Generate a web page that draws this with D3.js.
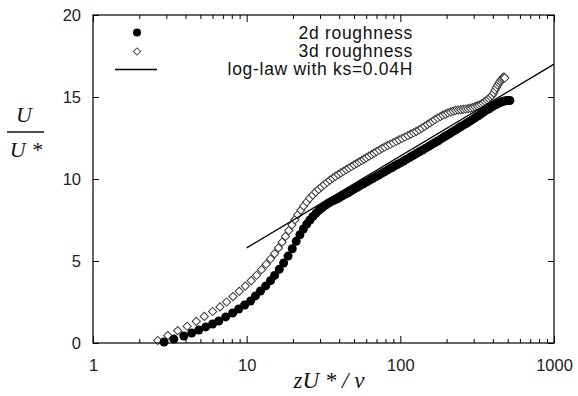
<!DOCTYPE html>
<html><head><meta charset="utf-8">
<script src="https://cdn.jsdelivr.net/npm/d3@7"></script>
<style>
html,body{margin:0;padding:0;background:#fff;}
svg{display:block;}
</style></head>
<body>
<svg id="chart" width="578" height="396"></svg>
<script>
// ---- data ----
const xMajorTicks = [1, 10, 100, 1000];
const xMajorLabels = ["1", "10", "100", "1000"];
const xMinorTicks = [2,3,4,5,6,7,8,9,20,30,40,50,60,70,80,90,200,300,400,500,600,700,800,900];
const yTicks = [0, 5, 10, 15, 20];
const yTickLabels = ["0", "5", "10", "15", "20"];

const legendLabels = ["2d roughness", "3d roughness", "log-law with ks=0.04H"];

const z2d = [2.9,3.36,3.9,4.39,4.88,5.42,6.0,6.58,7.3,8.1,8.87,9.7,10.6,11.4,12.3,13.3,14.3,15.2,16.3,17.4,18.6,19.8,21.0,22.2,23.4,24.6,25.8,27.0,28.3,29.6,31,32.5,34,35.5,37,38.5,40,42,44,46,48,50,52.5,55,57.5,60,63,66,69,72,75.5,79,83,87,91,95.5,100,105,110,115.5,121,127,133,139.5,146,153,160,167.5,175,183,191,200,209,218,228,238,248.5,259,270,282,294,306,319,332,346,360,375,390,405,420,436,452,468,484,500,516];
const u2d = [0.06,0.24,0.43,0.61,0.79,0.98,1.16,1.34,1.59,1.83,2.07,2.32,2.56,2.87,3.17,3.48,3.8,4.12,4.5,4.88,5.3,5.75,6.2,6.6,6.95,7.25,7.5,7.72,7.92,8.1,8.25,8.4,8.52,8.62,8.7,8.78,8.86,8.97,9.08,9.18,9.28,9.38,9.5,9.61,9.71,9.81,9.92,10.03,10.13,10.23,10.34,10.44,10.56,10.67,10.77,10.88,10.98,11.1,11.21,11.32,11.43,11.55,11.66,11.77,11.88,11.99,12.1,12.21,12.32,12.43,12.54,12.65,12.76,12.87,12.98,13.09,13.2,13.3,13.4,13.51,13.62,13.73,13.84,13.95,14.06,14.17,14.27,14.37,14.46,14.54,14.62,14.69,14.74,14.77,14.79,14.79];

const z3d = [2.64,3.07,3.56,4.1,4.7,5.3,6.0,6.7,7.4,8.15,8.95,9.8,10.7,11.6,12.5,13.4,14.3,15.2,16.1,17.0,17.9,18.8,19.7,20.6,21.5,22.5,23.5,24.6,25.7,26.9,28.1,29.4,30.7,32,33.4,34.8,36.3,37.8,39.4,41,42.7,44.4,46.2,48,50,52,54,56,58,60,62.5,65,67.5,70,73,76,79,82.5,86,90,94,98,102.5,107,112,117,122,127,132.5,138,144,150,156,162,168,175,182,189,196.5,204,212,220.5,229,238,247,256.5,266,276,286,296,306,316,326,336,346,356,366,376,386,396,405,414,422,430,438,446,454,461,467,473,478];
const u3d = [0.15,0.45,0.75,1.02,1.32,1.62,1.92,2.2,2.5,2.83,3.15,3.47,3.8,4.13,4.47,4.8,5.12,5.45,5.8,6.15,6.5,6.86,7.2,7.52,7.82,8.1,8.36,8.6,8.82,9.02,9.2,9.37,9.52,9.66,9.8,9.93,10.05,10.16,10.27,10.37,10.47,10.57,10.67,10.76,10.86,10.95,11.04,11.13,11.21,11.29,11.39,11.49,11.58,11.67,11.77,11.87,11.95,12.04,12.12,12.21,12.3,12.39,12.47,12.56,12.65,12.74,12.82,12.9,13.0,13.1,13.21,13.32,13.42,13.52,13.62,13.72,13.81,13.89,13.96,14.03,14.09,14.14,14.18,14.21,14.23,14.25,14.27,14.29,14.32,14.36,14.41,14.46,14.51,14.57,14.64,14.72,14.81,14.9,15.0,15.1,15.25,15.42,15.58,15.72,15.84,15.95,16.05,16.13,16.2,16.22,16.16];

const logLawZ = [10, 1000];
const logLawU = [5.8, 17.0];

// ---- layout ----
const svg = d3.select("#chart");
const L = 93, R = 554, T = 15, B = 343;
const x = d3.scaleLog().domain([1, 1000]).range([L, R]);
const y = d3.scaleLinear().domain([0, 20]).range([B, T]);
const labelFont = "'Liberation Sans', Arial, Helvetica, sans-serif";
const mathFont = "'Liberation Serif', 'Times New Roman', serif";

// data: 3d diamonds
const diamond = d3.symbol().type(d3.symbolSquare).size(34);
svg.append("g").selectAll("path").data(z3d.map((z, i) => [z, u3d[i]])).join("path")
  .attr("d", diamond)
  .attr("transform", d => `translate(${x(d[0])},${y(d[1])}) rotate(45)`)
  .attr("fill", "#fff").attr("stroke", "#3a3a3a").attr("stroke-width", 1);

// data: 2d circles
svg.append("g").selectAll("circle").data(z2d.map((z, i) => [z, u2d[i]])).join("circle")
  .attr("cx", d => x(d[0])).attr("cy", d => y(d[1])).attr("r", 4.5)
  .attr("fill", "#000");

// log-law line
svg.append("path")
  .datum(logLawZ.map((z, i) => [z, logLawU[i]]))
  .attr("d", d3.line().x(d => x(d[0])).y(d => y(d[1])))
  .attr("fill", "none").attr("stroke", "#000").attr("stroke-width", 1.4);

// axes
function styleAxis(g) {
  g.select(".domain").remove();
  g.selectAll("line").attr("stroke", "#000").attr("stroke-width", 1);
  g.selectAll("text").attr("font-family", labelFont).attr("font-size", 16.5).attr("fill", "#222");
}
svg.append("g").attr("transform", `translate(0,${B})`)
  .call(d3.axisBottom(x).tickValues(xMajorTicks).tickSize(-7).tickPadding(16)
    .tickFormat((d, i) => xMajorLabels[i])).call(styleAxis);
svg.append("g").attr("transform", `translate(0,${B})`)
  .call(d3.axisBottom(x).tickValues(xMinorTicks).tickSize(-4).tickFormat("")).call(styleAxis);
svg.append("g").attr("transform", `translate(0,${T})`)
  .call(d3.axisTop(x).tickValues(xMajorTicks).tickSize(-7).tickFormat("")).call(styleAxis);
svg.append("g").attr("transform", `translate(0,${T})`)
  .call(d3.axisTop(x).tickValues(xMinorTicks).tickSize(-4).tickFormat("")).call(styleAxis);
svg.append("g").attr("transform", `translate(${L},0)`)
  .call(d3.axisLeft(y).tickValues(yTicks).tickSize(-6).tickPadding(12)
    .tickFormat((d, i) => yTickLabels[i])).call(styleAxis);
svg.append("g").attr("transform", `translate(${R},0)`)
  .call(d3.axisRight(y).tickValues(yTicks).tickSize(-6).tickFormat("")).call(styleAxis);

// frame
svg.append("rect").attr("x", L).attr("y", T).attr("width", R - L).attr("height", B - T)
  .attr("fill", "none").attr("stroke", "#000").attr("stroke-width", 1.2);

// legend
const lg = svg.append("g");
const textX = 413;
lg.append("circle").attr("cx", 137).attr("cy", 32.5).attr("r", 4).attr("fill", "#000");
lg.append("path").attr("d", d3.symbol().type(d3.symbolSquare).size(26))
  .attr("transform", "translate(137,51.5) rotate(45)")
  .attr("fill", "#fff").attr("stroke", "#444").attr("stroke-width", 1);
lg.append("line").attr("x1", 115).attr("x2", 157).attr("y1", 69.5).attr("y2", 69.5)
  .attr("stroke", "#000").attr("stroke-width", 1.6);
legendLabels.forEach((t, i) => {
  lg.append("text").attr("x", textX).attr("y", 38.5 + i * 18.2)
    .attr("text-anchor", "end").attr("font-family", labelFont).attr("font-size", 17.5)
    .attr("letter-spacing", 0.7).attr("fill", "#111").text(t);
});

// y title (fraction)
const yt = svg.append("g").attr("font-family", mathFont).attr("font-style", "italic")
  .attr("font-size", 22).attr("fill", "#111");
yt.append("text").attr("x", 24).attr("y", 122).attr("text-anchor", "middle").text("U");
yt.append("line").attr("x1", 7).attr("x2", 44).attr("y1", 132).attr("y2", 132)
  .attr("stroke", "#111").attr("stroke-width", 1.3);
yt.append("text").attr("x", 26).attr("y", 157).attr("text-anchor", "middle").text("U *");

// x title
svg.append("text").attr("x", 329).attr("y", 388).attr("text-anchor", "middle")
  .attr("font-family", mathFont).attr("font-style", "italic").attr("font-size", 23)
  .attr("fill", "#111").text("zU * / ν");
</script>
</body></html>
